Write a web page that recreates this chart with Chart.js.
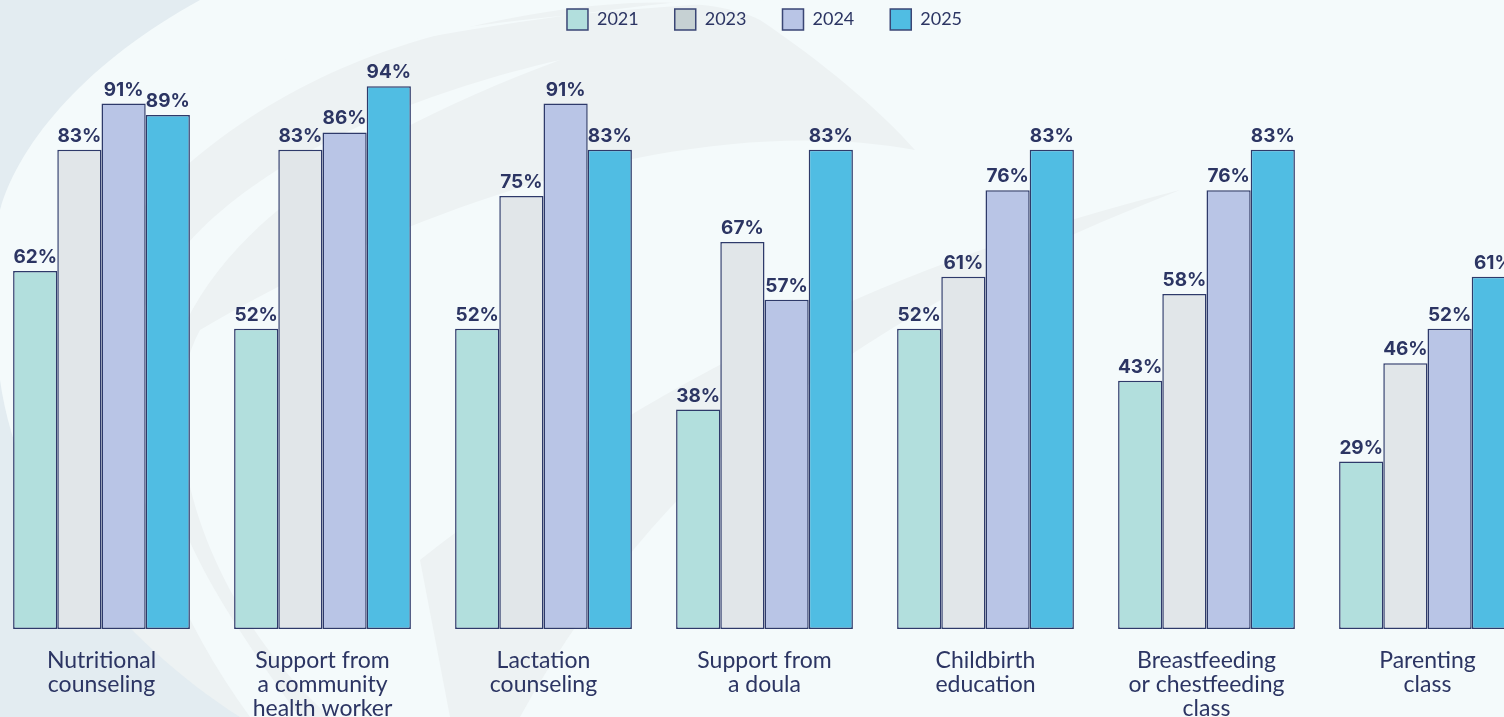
<!DOCTYPE html>
<html><head><meta charset="utf-8">
<script src="https://cdn.jsdelivr.net/npm/chart.js@4/dist/chart.umd.min.js"></script>
<style>
html,body{margin:0;padding:0;width:1504px;height:717px;overflow:hidden;background:#f5fbfc;}
#wrap{position:absolute;left:-9px;top:0;width:1547px;height:717px;}
</style></head><body>
<div id="wrap"><canvas id="c"></canvas></div>
<script>
const categories = [["Nutritional","counseling"],["Support from","a community","health worker"],["Lactation","counseling"],["Support from","a doula"],["Childbirth","education"],["Breastfeeding","or chestfeeding","class"],["Parenting","class"]];
const years = ["2021","2023","2024","2025"];
const values2021 = [62,52,52,38,52,43,29];
const values2023 = [83,83,75,67,61,58,46];
const values2024 = [91,86,91,57,76,76,52];
const values2025 = [89,94,83,83,83,83,61];
const colors = ["#b2dfdd","#e1e6e9","#b9c5e6","#50bde3"];
const legendColors = ["#b2dfdd","#c6d1d3","#b9c5e6","#50bde3"];
const navy = "#2c3563";
const seriesValues = [values2021, values2023, values2024, values2025];

const bgPlugin = {
  id: 'bg',
  beforeDraw(chart) {
    const ctx = chart.ctx;
    const w = chart.width, h = chart.height;
    ctx.save();
    ctx.fillStyle = '#f4fafb';
    ctx.fillRect(0, 0, w, h);
    ctx.translate(9, 0);
    ctx.fillStyle = '#edf2f3';
    ctx.beginPath();
    ctx.moveTo(0, 717);
    ctx.bezierCurveTo(-40, 350, 150, 120, 420, 40);
    ctx.bezierCurveTo(560, 0, 700, -10, 760, 20);
    ctx.bezierCurveTo(820, 60, 880, 110, 915, 150);
    ctx.bezierCurveTo(700, 110, 420, 200, 200, 330);
    ctx.bezierCurveTo(150, 420, 200, 600, 330, 717);
    ctx.closePath();
    ctx.fill();
    ctx.fillStyle = '#f4fafb';
    ctx.beginPath();
    ctx.moveTo(0, 170);
    ctx.bezierCurveTo(180, 60, 420, 20, 770, 0);
    ctx.lineTo(700, 0);
    ctx.bezierCurveTo(400, 30, 200, 80, 0, 150);
    ctx.closePath();
    ctx.fill();
    ctx.beginPath();
    ctx.moveTo(130, 420);
    ctx.bezierCurveTo(100, 250, 300, 120, 560, 60);
    ctx.bezierCurveTo(320, 150, 170, 260, 160, 420);
    ctx.bezierCurveTo(160, 520, 230, 620, 300, 717);
    ctx.lineTo(250, 717);
    ctx.bezierCurveTo(180, 620, 140, 520, 130, 420);
    ctx.closePath();
    ctx.fill();
    ctx.fillStyle = '#e3ecf1';
    ctx.beginPath();
    ctx.moveTo(0, 0);
    ctx.lineTo(200, 0);
    ctx.bezierCurveTo(90, 60, 20, 140, 0, 210);
    ctx.closePath();
    ctx.fill();
    ctx.beginPath();
    ctx.moveTo(0, 380);
    ctx.bezierCurveTo(20, 520, 120, 640, 240, 717);
    ctx.lineTo(0, 717);
    ctx.closePath();
    ctx.fill();
    ctx.fillStyle = '#edf2f3';
    ctx.beginPath();
    ctx.moveTo(420, 560);
    ctx.bezierCurveTo(650, 380, 900, 260, 1180, 190);
    ctx.bezierCurveTo(900, 300, 680, 430, 520, 717);
    ctx.lineTo(450, 717);
    ctx.closePath();
    ctx.fill();
    ctx.restore();
  }
};

const labelPlugin = {
  id: 'valLabels',
  afterDatasetsDraw(chart) {
    const ctx = chart.ctx;
    ctx.save();
    ctx.fillStyle = navy;
    ctx.font = 'bold 19px Inter';
    ctx.textAlign = 'center';
    ctx.textBaseline = 'alphabetic';
    chart.data.datasets.forEach((ds, i) => {
      const meta = chart.getDatasetMeta(i);
      meta.data.forEach((el, j) => {
        ctx.fillText(ds.data[j] + '%', el.x, el.y - 8);
      });
    });
    ctx.restore();
  }
};

new Chart(document.getElementById('c'), {
  type: 'bar',
  data: {
    labels: categories,
    datasets: years.map((y, i) => ({
      label: y,
      data: seriesValues[i],
      backgroundColor: colors[i],
      borderColor: '#2e3a6a',
      borderWidth: 1.5,
      borderSkipped: false,
      categoryPercentage: 0.8,
      barPercentage: 1.0
    }))
  },
  options: {
    responsive: true,
    maintainAspectRatio: false,
    animation: false,
    layout: { padding: { top: -27, left: 0, right: 0, bottom: 0 } },
    plugins: {
      legend: {
        position: 'top',
        labels: {
          boxWidth: 21, boxHeight: 21, padding: 36,
          color: navy,
          font: { family: 'Lato', size: 18 },
          generateLabels(chart) {
            const items = Chart.defaults.plugins.legend.labels.generateLabels(chart);
            items.forEach((it, i) => { it.fillStyle = legendColors[i]; it.strokeStyle = '#3a4675'; it.lineWidth = 1.5; });
            return items;
          }
        }
      },
      tooltip: { enabled: false }
    },
    scales: {
      x: {
        grid: { display: false, drawTicks: false },
        border: { display: false },
        ticks: {
          color: navy,
          font: { family: 'Lato', size: 23, lineHeight: 1.04 },
          padding: 20,
          maxRotation: 0, autoSkip: false
        },
        afterFit(scale) { scale.height = 88; }
      },
      y: { display: false, min: 0, max: 102 }
    }
  },
  plugins: [bgPlugin, labelPlugin]
});
</script>
</body></html>
